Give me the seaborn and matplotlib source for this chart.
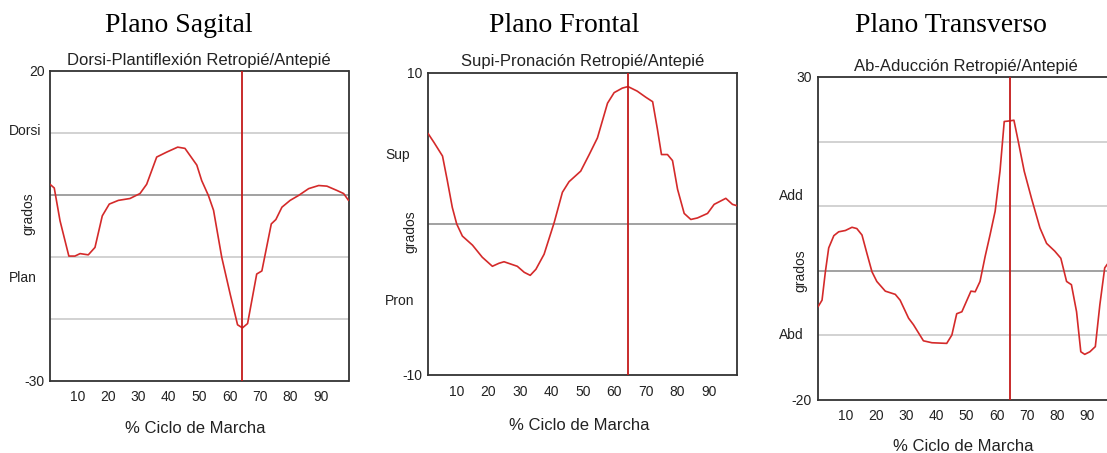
import numpy as np
import pandas as pd
import matplotlib
matplotlib.use("Agg")
import matplotlib.pyplot as plt
import matplotlib.transforms as mtrans
import seaborn as sns

# ---------------- data ----------------
plane_titles = ["Plano Sagital", "Plano Frontal", "Plano Transverso"]
sub_titles = ["Dorsi-Plantiflexión Retropié/Antepié",
              "Supi-Pronación Retropié/Antepié",
              "Ab-Aducción Retropié/Antepié"]
x_label = "% Ciclo de Marcha"
y_label = "grados"

sag_x = [0.9, 2.3, 4.2, 7.1, 9.1, 10.8, 13.5, 15.7, 18.1, 20.4, 23.4, 27.2, 30.5,
         32.7, 36.0, 39.3, 42.9, 45.3, 49.2, 50.8, 53.0, 54.7, 57.4, 60.2, 62.6,
         64.2, 65.9, 68.9, 70.6, 73.7, 75.2, 77.2, 79.9, 82.7, 86.0, 89.3, 92.0,
         95.3, 97.5, 99.1]
sag_y = [1.7, 1.1, -4.2, -9.9, -9.9, -9.5, -9.7, -8.5, -3.4, -1.5, -0.9, -0.6, 0.2,
         1.7, 6.1, 6.9, 7.7, 7.5, 4.8, 2.3, -0.1, -2.5, -10.1, -16.1, -21.0,
         -21.5, -20.8, -12.8, -12.3, -4.7, -4.0, -2.0, -0.9, -0.1, 1.0, 1.5, 1.4,
         0.7, 0.2, -0.9]

fro_x = [0.9, 2.8, 5.5, 7.0, 8.6, 10.0, 11.8, 15.0, 18.1, 21.3, 23.4, 25.0, 29.2,
         31.4, 33.3, 35.1, 37.7, 40.9, 43.5, 45.6, 49.3, 52.0, 54.6, 57.8, 59.9,
         62.5, 64.3, 67.2, 69.9, 72.1, 73.6, 74.9, 76.8, 78.4, 80.0, 82.1, 84.2,
         86.3, 89.5, 91.6, 95.3, 97.4, 99.0]
fro_y = [6.0, 5.4, 4.5, 2.9, 1.1, 0.0, -0.8, -1.4, -2.2, -2.8, -2.6, -2.5, -2.8,
         -3.2, -3.4, -3.0, -2.0, 0.1, 2.1, 2.8, 3.5, 4.6, 5.7, 8.0, 8.7,
         9.0, 9.1, 8.8, 8.4, 8.1, 6.3, 4.6, 4.6, 4.2, 2.3, 0.7, 0.3,
         0.4, 0.7, 1.3, 1.7, 1.3, 1.2]

tra_x = [1.0, 2.3, 3.4, 4.5, 6.2, 7.8, 10.0, 12.2, 13.8, 15.5, 17.1, 18.8, 20.4,
         23.2, 26.5, 28.1, 30.9, 32.5, 35.8, 38.6, 43.5, 45.2, 46.8, 48.5, 51.5,
         52.9, 54.5, 56.2, 57.8, 59.5, 61.1, 62.5, 64.4, 65.7, 67.1, 69.1, 71.5,
         74.3, 76.5, 79.2, 81.2, 83.1, 84.7, 86.4, 87.8, 89.1, 90.8, 92.6, 94.1,
         95.7, 96.6]
tra_y = [-5.6, -4.6, -0.2, 3.5, 5.4, 6.0, 6.2, 6.7, 6.5, 5.5, 2.7, -0.2, -1.7,
         -3.2, -3.7, -4.6, -7.4, -8.4, -10.9, -11.2, -11.3, -10.0, -6.7, -6.4, -3.2,
         -3.3, -1.7, 2.2, 5.5, 9.2, 15.4, 23.1, 23.2, 23.3, 20.1, 15.4, 11.2,
         6.6, 4.2, 3.0, 1.9, -1.7, -2.2, -6.4, -12.6, -13.0, -12.6, -11.8, -5.3,
         0.4, 1.0]

x_ticks = [10, 20, 30, 40, 50, 60, 70, 80, 90]
x_limits = [(0.9, 99.1), (0.9, 99.0), (0.8, 99.1)]
y_limits = [(-30, 20), (-10, 10), (-20, 30)]
y_tick_labels = [["-30", "20"], ["-10", "10"], ["-20", "30"]]
light_grid = [[10, -10, -20], [], [20, 10, -10]]
zero_line = [0, 0, 0]
word_labels = [["Dorsi", "Plan"], ["Sup", "Pron"], ["Add", "Abd"]]
word_values = [[10.3, -13.5], [4.6, -5.1], [11.5, -10.0]]
grados_values = [-3.0, -0.5, 0.0]
toe_off = [64.2, 64.3, 64.4]

series = [(sag_x, sag_y), (fro_x, fro_y), (tra_x, tra_y)]

# ---------------- layout (pixels) ----------------
W, H = 1107, 453
axes_px = [(50, 71, 348.5, 380.5), (428, 73, 737.5, 375), (817.5, 77, 1115, 399.5)]
title_px = [(179, 32), (564, 32), (951, 32)]
sub_px = [65, 66, 71]
xlabel_px = [(195, 433), (579, 430), (963, 451)]
word_left_px = [9, 385, 779]
grados_x_px = [28, 410, 800]

sns.set_style("white")
plt.rcParams["font.family"] = ["Liberation Sans", "DejaVu Sans"]

fig = plt.figure(figsize=(W / 100, H / 100), dpi=100)
fig.patch.set_facecolor("white")

curve_color = "#d42a2a"
vline_color = "#c41a1a"
spine_color = "#333333"
text_color = "#222222"

for i in range(3):
    l, t, r, b = axes_px[i]
    ax = fig.add_axes([l / W, 1 - b / H, (r - l) / W, (b - t) / H])
    ax.set_facecolor("white")
    df = pd.DataFrame({"x": series[i][0], "y": series[i][1]})

    for gv in light_grid[i]:
        ax.axhline(gv, color="#cfcfcf", lw=1.3, zorder=1)
    ax.axhline(zero_line[i], color="#9a9a9a", lw=1.3, zorder=1)

    sns.lineplot(data=df, x="x", y="y", ax=ax, color=curve_color, lw=1.2,
                 zorder=3, estimator=None)
    ax.axvline(toe_off[i], color=vline_color, lw=1.3, zorder=4)

    ax.set_xlim(*x_limits[i])
    ax.set_ylim(*y_limits[i])
    ax.set_xticks(x_ticks)
    ax.set_xticklabels([str(v) for v in x_ticks])
    ax.set_yticks(list(y_limits[i]))
    ax.set_yticklabels(y_tick_labels[i])
    ax.tick_params(axis="x", direction="in", length=5, width=1, color=spine_color,
                   labelsize=10, pad=7, labelcolor=text_color)
    ax.tick_params(axis="y", length=0, labelsize=10, pad=4, labelcolor=text_color)
    ax.set_xlabel("")
    ax.set_ylabel("")
    for s in ax.spines.values():
        s.set_visible(True)
        s.set_color(spine_color)
        s.set_linewidth(1.3)

    trans = mtrans.blended_transform_factory(fig.transFigure, ax.transData)
    for wl, wv in zip(word_labels[i], word_values[i]):
        ax.text(word_left_px[i] / W, wv, wl, transform=trans, ha="left",
                va="center", fontsize=10, color=text_color)
    ax.text(grados_x_px[i] / W, grados_values[i], y_label, transform=trans,
            rotation=90, ha="center", va="center", fontsize=10, color=text_color)

    cx = (l + r) / 2
    fig.text(cx / W, 1 - sub_px[i] / H, sub_titles[i], ha="center",
             va="baseline", fontsize=12, color=text_color)
    fig.text(xlabel_px[i][0] / W, 1 - xlabel_px[i][1] / H, x_label, ha="center",
             va="baseline", fontsize=12, color=text_color)
    fig.text(title_px[i][0] / W, 1 - title_px[i][1] / H, plane_titles[i],
             ha="center", va="baseline", fontsize=20,
             family=["Liberation Serif", "DejaVu Serif"], color="black")

fig.savefig("out.png", dpi=100)
